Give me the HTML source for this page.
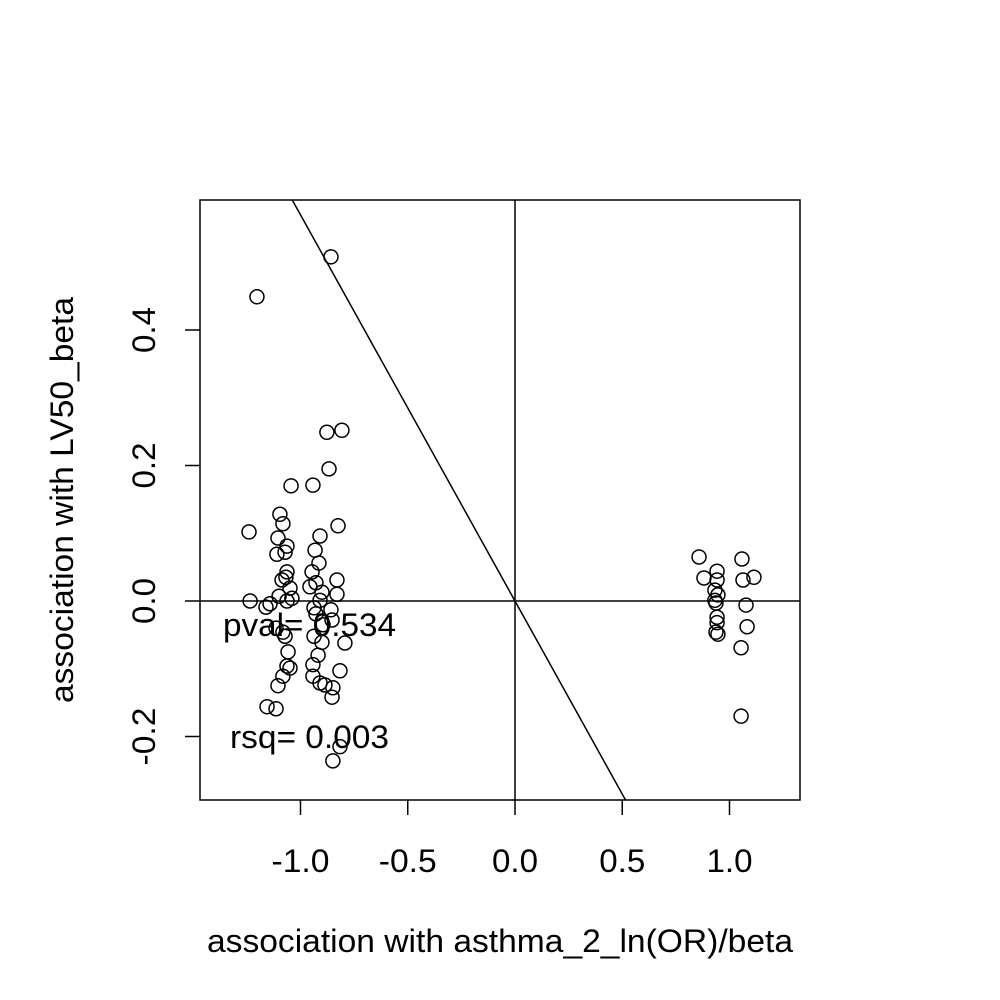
<!DOCTYPE html>
<html><head><meta charset="utf-8"><style>
html,body{margin:0;background:#fff;overflow:hidden;width:1000px;height:1000px}
svg{display:block}
text{font-family:"Liberation Sans",sans-serif;fill:#000}
</style></head><body>
<svg id="chart" width="1000" height="1000" xmlns="http://www.w3.org/2000/svg">
<rect x="0" y="0" width="1000" height="1000" fill="#fff"/>
<g id="marks"></g>
<rect x="200" y="200" width="600" height="600" fill="none" stroke="#000" stroke-width="1.5"/>
<text x="223" y="636" font-size="32" textLength="173" lengthAdjust="spacingAndGlyphs">pval= 0.534</text>
<text x="230" y="748" font-size="32" textLength="159" lengthAdjust="spacingAndGlyphs">rsq= 0.003</text>
<text x="207" y="952" font-size="32" textLength="586" lengthAdjust="spacingAndGlyphs">association with asthma_2_ln(OR)/beta</text>
<text x="0" y="0" font-size="32" textLength="406" lengthAdjust="spacingAndGlyphs" transform="translate(73,703) rotate(-90)">association with LV50_beta</text>
<g id="axes"></g>
</svg>
<script>
const xs=[-0.858,-1.203,-0.877,-0.807,-0.867,-0.942,-1.044,-1.096,-1.082,-0.825,-1.240,-0.909,-1.105,-1.063,-0.932,-1.072,-1.110,-0.914,-1.063,-0.946,-1.068,-1.086,-0.830,-0.928,-1.049,-0.956,-0.900,-0.830,-1.100,-1.040,-1.235,-1.142,-0.909,-1.063,-0.937,-1.161,-0.858,-0.928,-0.853,-0.895,-1.114,-1.082,-1.072,-0.937,-0.900,-0.793,-1.058,-0.918,-0.942,-1.063,-1.049,-0.816,-1.082,-0.942,-0.909,-0.886,-1.105,-0.849,-0.853,-1.156,-1.114,-0.816,-0.849,
0.858,1.058,0.881,1.114,0.942,0.942,1.063,0.932,0.946,0.932,0.937,1.077,0.942,0.942,1.082,0.937,0.946,1.054,1.054];
const ys=[0.508,0.449,0.249,0.252,0.195,0.171,0.170,0.128,0.114,0.111,0.102,0.096,0.093,0.081,0.075,0.072,0.069,0.056,0.043,0.043,0.035,0.031,0.031,0.027,0.019,0.021,0.013,0.010,0.007,0.004,0.000,-0.004,0.001,0.000,-0.010,-0.009,-0.013,-0.019,-0.028,-0.035,-0.040,-0.046,-0.052,-0.052,-0.061,-0.062,-0.075,-0.080,-0.094,-0.096,-0.099,-0.103,-0.111,-0.111,-0.121,-0.124,-0.125,-0.128,-0.142,-0.156,-0.159,-0.215,-0.236,
0.065,0.062,0.034,0.035,0.044,0.031,0.031,0.016,0.009,0.001,-0.003,-0.006,-0.024,-0.032,-0.038,-0.046,-0.049,-0.069,-0.170];
const xTicks=[-1.0,-0.5,0.0,0.5,1.0];
const yTicks=[-0.2,0.0,0.2,0.4];
const slope=[-0.57];
const X=v=>515+v*214.5, Y=v=>601-v*677.5;
const NS='http://www.w3.org/2000/svg';
const m=document.getElementById('marks'), ax=document.getElementById('axes');
function mk(t,a,p){const e=document.createElementNS(NS,t);for(const k in a)e.setAttribute(k,a[k]);p.appendChild(e);return e;}
const cp=mk('clipPath',{id:'cp'},m);mk('rect',{x:200,y:200,width:600,height:600},cp);
const g=mk('g',{'clip-path':'url(#cp)'},m);
let l=mk('line',{x1:X(0),y1:200,x2:X(0),y2:800,stroke:'#000','stroke-width':1.5},g);


l=mk('line',{x1:200,y1:Y(0),x2:800,y2:Y(0),stroke:'#000','stroke-width':1.5},g);


l=mk('line',{x1:X(-2),y1:Y(-2*slope[0]),x2:X(2),y2:Y(2*slope[0]),stroke:'#000','stroke-width':1.5},g);


xs.forEach((v,i)=>{const c=mk('circle',{cx:X(v),cy:Y(ys[i]),r:7,fill:'none',stroke:'#000','stroke-width':1.5},m);

});
xTicks.forEach(v=>{const t=mk('line',{x1:X(v),y1:800,x2:X(v),y2:815,stroke:'#000','stroke-width':1.5},ax);


const s=v.toFixed(1);
const w=s.startsWith('-')?58:46;
const tx=mk('text',{x:X(v)-w/2,y:872,'font-size':32,textLength:w,lengthAdjust:'spacingAndGlyphs'},ax);tx.textContent=s;

});
yTicks.forEach(v=>{const t=mk('line',{x1:185,y1:Y(v),x2:200,y2:Y(v),stroke:'#000','stroke-width':1.5},ax);


const s=v.toFixed(1);
const w=s.startsWith('-')?58:46;
const tx=mk('text',{x:0,y:0,'font-size':32,textLength:w,lengthAdjust:'spacingAndGlyphs',transform:`translate(155,${Y(v)+w/2}) rotate(-90)`},ax);tx.textContent=s;

});
</script>
</body></html>
